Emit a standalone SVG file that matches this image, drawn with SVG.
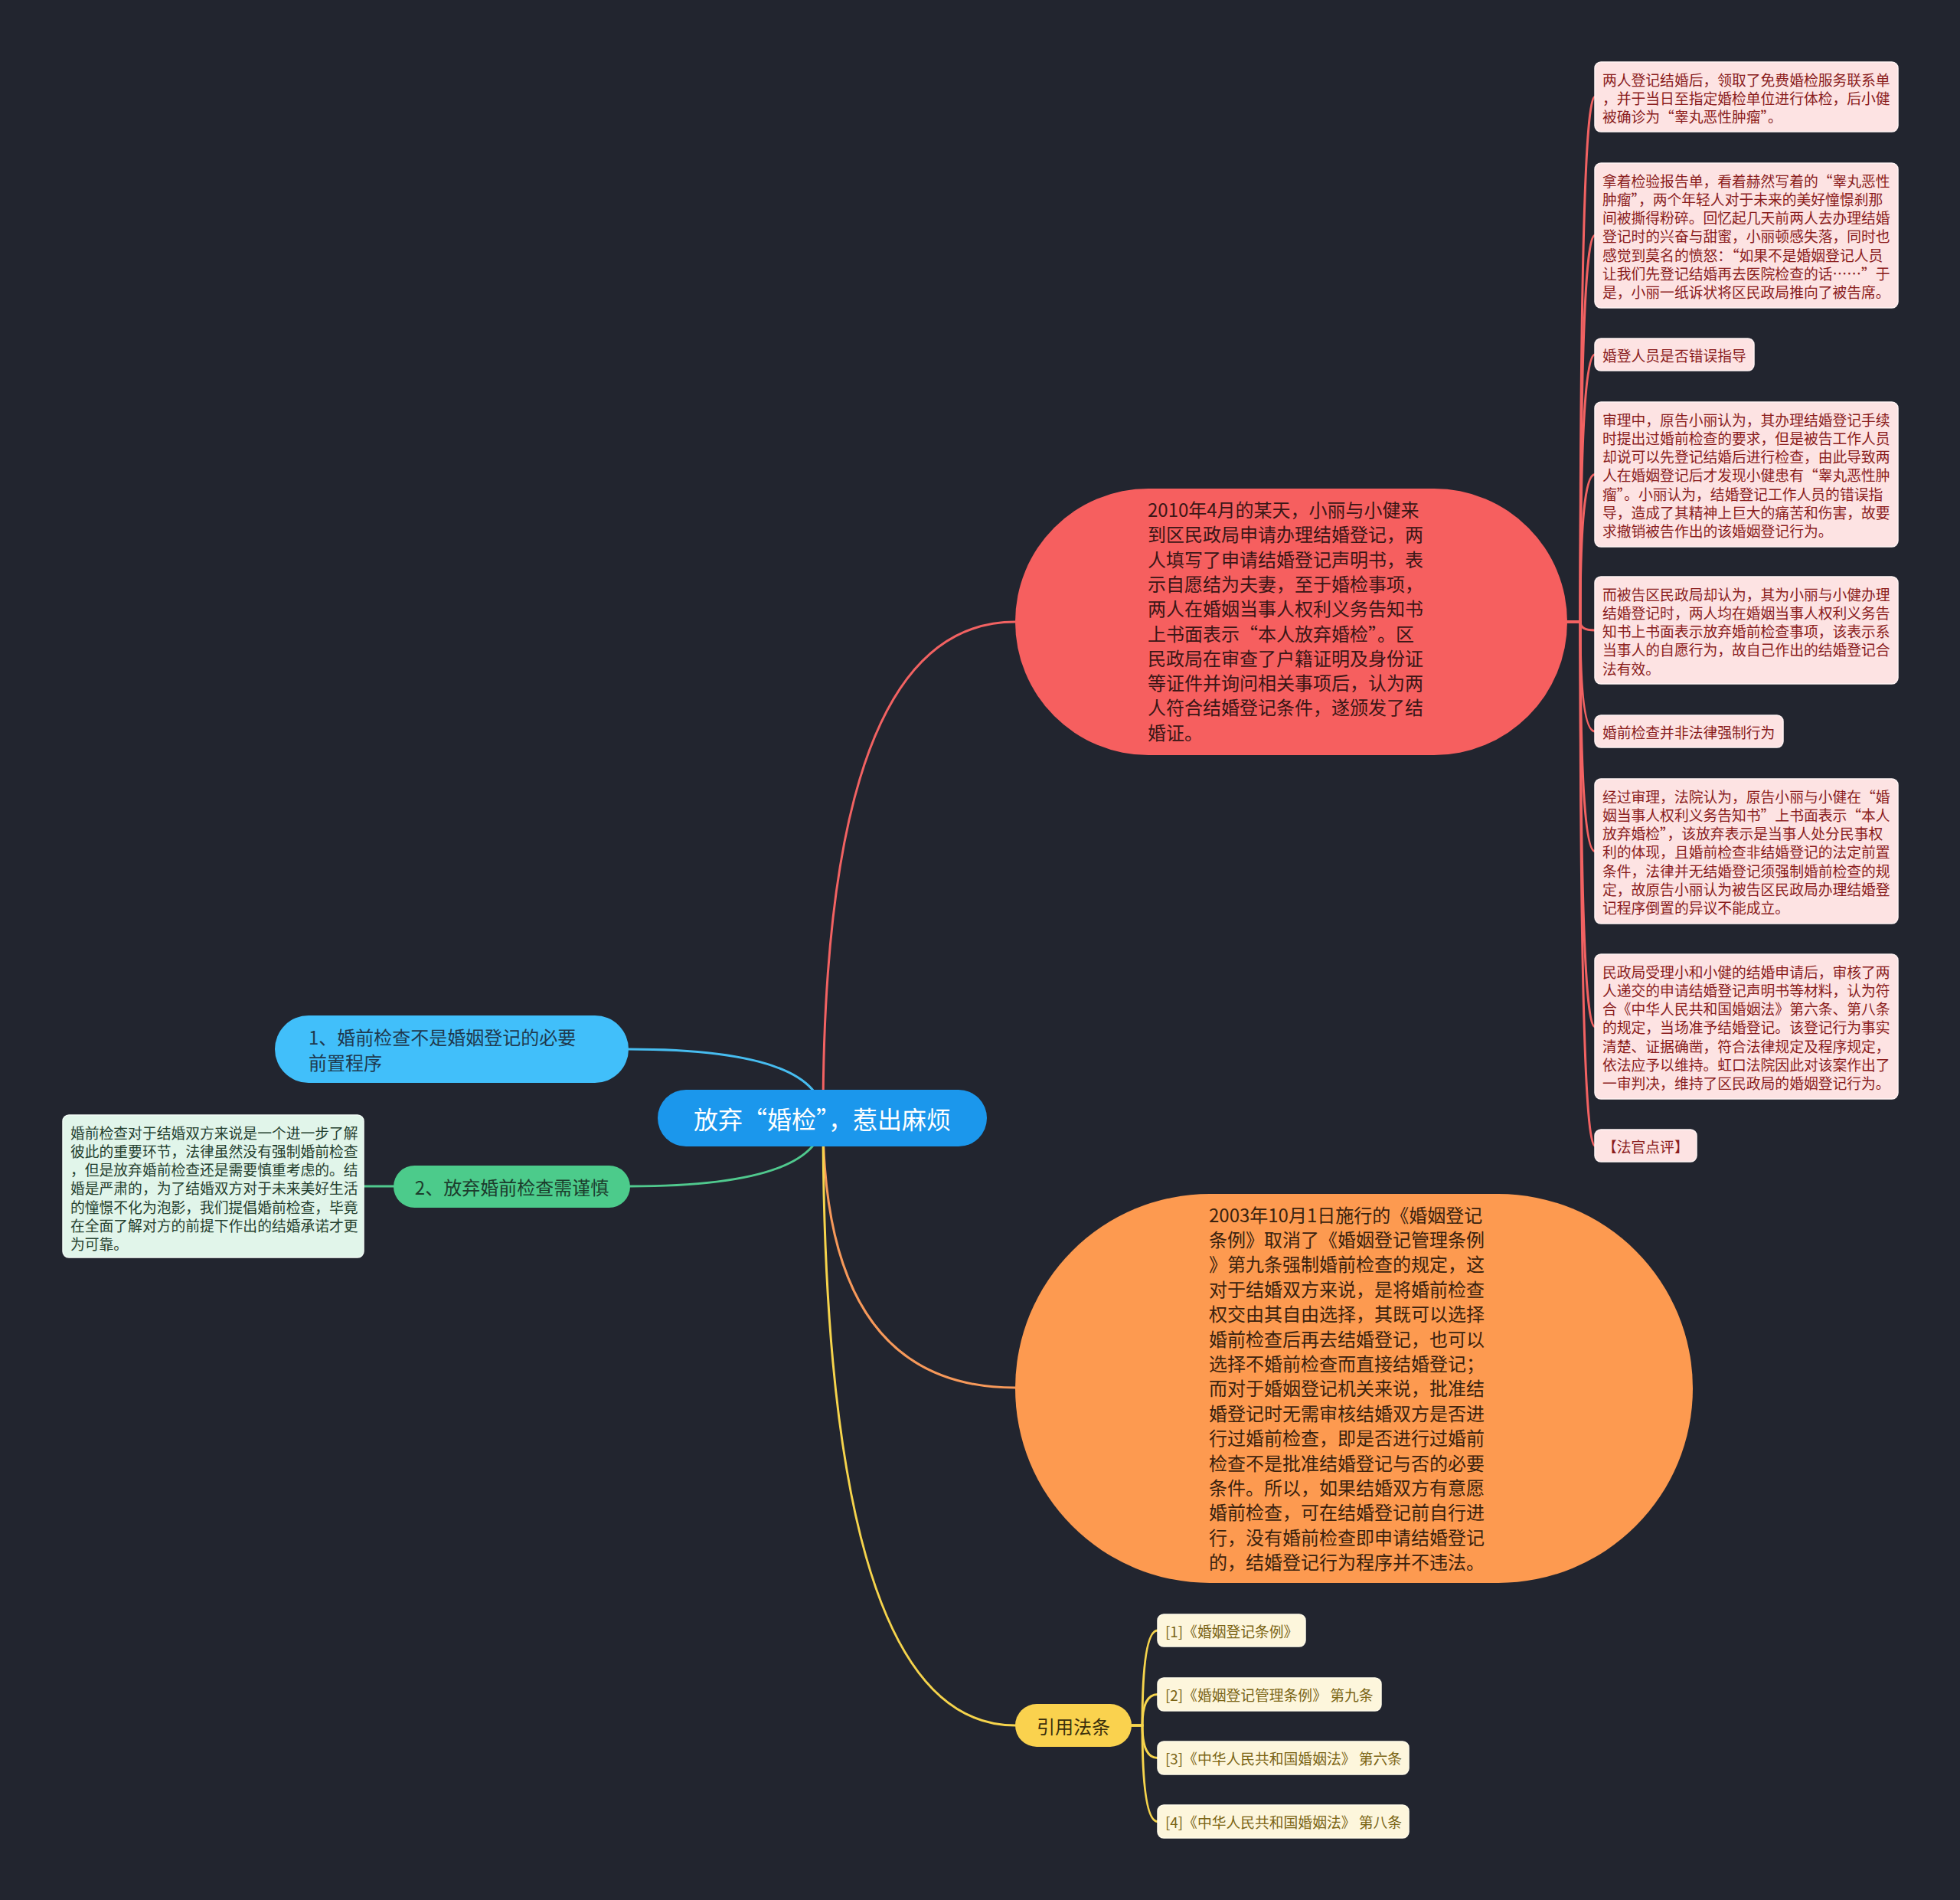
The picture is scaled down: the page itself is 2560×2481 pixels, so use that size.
<svg xmlns="http://www.w3.org/2000/svg" width="2560" height="2481" viewBox="0 0 2560 2481">
<style>
text{font-family:"Noto Sans CJK SC","Microsoft YaHei",sans-serif;dominant-baseline:central}
.c{fill:none;stroke-width:3;stroke-linecap:round}
.note{fill:#fde3e3;stroke:#fff3f3;stroke-width:1.5}
.nt{font-size:18.8px;fill:#8a1c1c}
.ref{fill:#fdf6dc;stroke:#fffbe9;stroke-width:1.5}
.rt{font-size:18.8px;fill:#7a6414}
.big{font-size:24px}
</style>
<rect x="0" y="0" width="2560" height="2481" fill="#22252f"/>
<g id="connectors">
<path class="c" stroke="#f26262" d="M1075,1460 Q1075,812 1326,812"/>
<path class="c" stroke="#f7995a" d="M1075,1460 Q1075,1812 1326,1812"/>
<path class="c" stroke="#f6d44c" d="M1075,1460 Q1075,2253 1326,2253"/>
<path class="c" stroke="#47bdf0" d="M1075,1460 Q1075,1370 821,1370"/>
<path class="c" stroke="#50c98e" d="M1075,1460 Q1075,1549 823,1549"/>
<path class="c" stroke="#50c98e" d="M514,1549 L475,1549"/>
<g stroke="#f26262" class="c">
<path d="M2047,812 L2064,812 Q2064,126.5 2083,126.5"/>
<path d="M2047,812 L2064,812 Q2064,307.5 2083,307.5"/>
<path d="M2047,812 L2064,812 Q2064,463 2083,463"/>
<path d="M2047,812 L2064,812 Q2064,619.5 2083,619.5"/>
<path d="M2047,812 L2064,812 Q2064,823 2083,823"/>
<path d="M2047,812 L2064,812 Q2064,955 2083,955"/>
<path d="M2047,812 L2064,812 Q2064,1111.5 2083,1111.5"/>
<path d="M2047,812 L2064,812 Q2064,1340.5 2083,1340.5"/>
<path d="M2047,812 L2064,812 Q2064,1496 2083,1496"/>
</g>
<g stroke="#f6d44c" class="c">
<path d="M1478,2253 L1492,2253 Q1492,2129 1512,2129"/>
<path d="M1478,2253 L1492,2253 Q1492,2212.5 1512,2212.5"/>
<path d="M1478,2253 L1492,2253 Q1492,2295.5 1512,2295.5"/>
<path d="M1478,2253 L1492,2253 Q1492,2378.5 1512,2378.5"/>
</g>
</g>
<g id="root">
<rect x="859" y="1423" width="430" height="74" rx="37" fill="#1b97ec"/>
<text x="1074" y="1460" font-size="32" fill="#ffffff" text-anchor="middle">放弃“婚检”，惹出麻烦</text>
</g>
<g id="n-red">
<rect x="1326" y="638" width="721" height="348" rx="174" fill="#f65f5f"/>
<g class="big" fill="#3a1616">
<text x="1499" y="664.5">2010年4月的某天，小丽与小健来</text>
<text x="1499" y="696.8">到区民政局申请办理结婚登记，两</text>
<text x="1499" y="729.1">人填写了申请结婚登记声明书，表</text>
<text x="1499" y="761.4">示自愿结为夫妻，至于婚检事项，</text>
<text x="1499" y="793.7">两人在婚姻当事人权利义务告知书</text>
<text x="1499" y="826">上书面表示“本人放弃婚检”。区</text>
<text x="1499" y="858.3">民政局在审查了户籍证明及身份证</text>
<text x="1499" y="890.6">等证件并询问相关事项后，认为两</text>
<text x="1499" y="922.9">人符合结婚登记条件，遂颁发了结</text>
<text x="1499" y="955.2">婚证。</text>
</g>
</g>
<g id="n-orange">
<rect x="1326" y="1559" width="885" height="508" rx="254" fill="#fd9a50"/>
<g class="big" fill="#3a220e">
<text x="1579" y="1585">2003年10月1日施行的《婚姻登记</text>
<text x="1579" y="1617.4">条例》取消了《婚姻登记管理条例</text>
<text x="1579" y="1649.8">》第九条强制婚前检查的规定，这</text>
<text x="1579" y="1682.2">对于结婚双方来说，是将婚前检查</text>
<text x="1579" y="1714.6">权交由其自由选择，其既可以选择</text>
<text x="1579" y="1747">婚前检查后再去结婚登记，也可以</text>
<text x="1579" y="1779.4">选择不婚前检查而直接结婚登记；</text>
<text x="1579" y="1811.8">而对于婚姻登记机关来说，批准结</text>
<text x="1579" y="1844.2">婚登记时无需审核结婚双方是否进</text>
<text x="1579" y="1876.6">行过婚前检查，即是否进行过婚前</text>
<text x="1579" y="1909">检查不是批准结婚登记与否的必要</text>
<text x="1579" y="1941.4">条件。所以，如果结婚双方有意愿</text>
<text x="1579" y="1973.8">婚前检查，可在结婚登记前自行进</text>
<text x="1579" y="2006.2">行，没有婚前检查即申请结婚登记</text>
<text x="1579" y="2038.6">的，结婚登记行为程序并不违法。</text>
</g>
</g>
<g id="n-blue">
<rect x="359" y="1326" width="462" height="88" rx="44" fill="#41bffa"/>
<text class="big" x="403" y="1353" fill="#1f3a4f">1、婚前检查不是婚姻登记的必要</text>
<text class="big" x="403" y="1386" fill="#1f3a4f">前置程序</text>
</g>
<g id="n-green">
<rect x="514" y="1522" width="309" height="55" rx="27.5" fill="#4ccb8b"/>
<text class="big" x="668.5" y="1549.5" fill="#1c3d2d" text-anchor="middle">2、放弃婚前检查需谨慎</text>
</g>
<g id="n-green-note">
<rect x="82" y="1456" width="393" height="186" rx="8" fill="#e1f5ea" stroke="#f2fbf6" stroke-width="1.5"/>
<g font-size="18.8" fill="#25402f">
<text x="92" y="1478">婚前检查对于结婚双方来说是一个进一步了解</text>
<text x="92" y="1502.3">彼此的重要环节，法律虽然没有强制婚前检查</text>
<text x="92" y="1526.6">，但是放弃婚前检查还是需要慎重考虑的。结</text>
<text x="92" y="1550.9">婚是严肃的，为了结婚双方对于未来美好生活</text>
<text x="92" y="1575.2">的憧憬不化为泡影，我们提倡婚前检查，毕竟</text>
<text x="92" y="1599.5">在全面了解对方的前提下作出的结婚承诺才更</text>
<text x="92" y="1623.8">为可靠。</text>
</g>
</g>
<g id="n-yellow">
<rect x="1326" y="2225" width="152" height="56" rx="28" fill="#fad24e"/>
<text class="big" x="1402" y="2253" fill="#3a2f0c" text-anchor="middle">引用法条</text>
</g>
<g id="note1">
<rect class="note" x="2083" y="81" width="396" height="91" rx="8"/>
<text class="nt" x="2093" y="103">两人登记结婚后，领取了免费婚检服务联系单</text>
<text class="nt" x="2093" y="127.3">，并于当日至指定婚检单位进行体检，后小健</text>
<text class="nt" x="2093" y="151.6">被确诊为“睾丸恶性肿瘤”。</text>
</g>
<g id="note2">
<rect class="note" x="2083" y="213" width="396" height="189" rx="8"/>
<text class="nt" x="2093" y="235">拿着检验报告单，看着赫然写着的“睾丸恶性</text>
<text class="nt" x="2093" y="259.3">肿瘤”，两个年轻人对于未来的美好憧憬刹那</text>
<text class="nt" x="2093" y="283.6">间被撕得粉碎。回忆起几天前两人去办理结婚</text>
<text class="nt" x="2093" y="307.9">登记时的兴奋与甜蜜，小丽顿感失落，同时也</text>
<text class="nt" x="2093" y="332.2">感觉到莫名的愤怒：“如果不是婚姻登记人员</text>
<text class="nt" x="2093" y="356.5">让我们先登记结婚再去医院检查的话……”于</text>
<text class="nt" x="2093" y="380.8">是，小丽一纸诉状将区民政局推向了被告席。</text>
</g>
<g id="note3">
<rect class="note" x="2083" y="442" width="208" height="42" rx="8"/>
<text class="nt" x="2093" y="463">婚登人员是否错误指导</text>
</g>
<g id="note4">
<rect class="note" x="2083" y="525" width="396" height="189" rx="8"/>
<text class="nt" x="2093" y="547">审理中，原告小丽认为，其办理结婚登记手续</text>
<text class="nt" x="2093" y="571.3">时提出过婚前检查的要求，但是被告工作人员</text>
<text class="nt" x="2093" y="595.6">却说可以先登记结婚后进行检查，由此导致两</text>
<text class="nt" x="2093" y="619.9">人在婚姻登记后才发现小健患有“睾丸恶性肿</text>
<text class="nt" x="2093" y="644.2">瘤”。小丽认为，结婚登记工作人员的错误指</text>
<text class="nt" x="2093" y="668.5">导，造成了其精神上巨大的痛苦和伤害，故要</text>
<text class="nt" x="2093" y="692.8">求撤销被告作出的该婚姻登记行为。</text>
</g>
<g id="note5">
<rect class="note" x="2083" y="753" width="396" height="140" rx="8"/>
<text class="nt" x="2093" y="775">而被告区民政局却认为，其为小丽与小健办理</text>
<text class="nt" x="2093" y="799.3">结婚登记时，两人均在婚姻当事人权利义务告</text>
<text class="nt" x="2093" y="823.6">知书上书面表示放弃婚前检查事项，该表示系</text>
<text class="nt" x="2093" y="847.9">当事人的自愿行为，故自己作出的结婚登记合</text>
<text class="nt" x="2093" y="872.2">法有效。</text>
</g>
<g id="note6">
<rect class="note" x="2083" y="934" width="246" height="42" rx="8"/>
<text class="nt" x="2093" y="955">婚前检查并非法律强制行为</text>
</g>
<g id="note7">
<rect class="note" x="2083" y="1017" width="396" height="189" rx="8"/>
<text class="nt" x="2093" y="1039">经过审理，法院认为，原告小丽与小健在“婚</text>
<text class="nt" x="2093" y="1063.3">姻当事人权利义务告知书”上书面表示“本人</text>
<text class="nt" x="2093" y="1087.6">放弃婚检”，该放弃表示是当事人处分民事权</text>
<text class="nt" x="2093" y="1111.9">利的体现，且婚前检查非结婚登记的法定前置</text>
<text class="nt" x="2093" y="1136.2">条件，法律并无结婚登记须强制婚前检查的规</text>
<text class="nt" x="2093" y="1160.5">定，故原告小丽认为被告区民政局办理结婚登</text>
<text class="nt" x="2093" y="1184.8">记程序倒置的异议不能成立。</text>
</g>
<g id="note8">
<rect class="note" x="2083" y="1246" width="396" height="189" rx="8"/>
<text class="nt" x="2093" y="1268">民政局受理小和小健的结婚申请后，审核了两</text>
<text class="nt" x="2093" y="1292.3">人递交的申请结婚登记声明书等材料，认为符</text>
<text class="nt" x="2093" y="1316.6">合《中华人民共和国婚姻法》第六条、第八条</text>
<text class="nt" x="2093" y="1340.9">的规定，当场准予结婚登记。该登记行为事实</text>
<text class="nt" x="2093" y="1365.2">清楚、证据确凿，符合法律规定及程序规定，</text>
<text class="nt" x="2093" y="1389.5">依法应予以维持。虹口法院因此对该案作出了</text>
<text class="nt" x="2093" y="1413.8">一审判决，维持了区民政局的婚姻登记行为。</text>
</g>
<g id="note9">
<rect class="note" x="2083" y="1475" width="133" height="42" rx="8"/>
<text class="nt" x="2093" y="1496">【法官点评】</text>
</g>
<g id="ref1">
<rect class="ref" x="1512" y="2108" width="193" height="42" rx="8"/>
<text class="rt" x="1522" y="2129">[1]《婚姻登记条例》</text>
</g>
<g id="ref2">
<rect class="ref" x="1512" y="2191" width="292" height="43" rx="8"/>
<text class="rt" x="1522" y="2212.5">[2]《婚姻登记管理条例》 第九条</text>
</g>
<g id="ref3">
<rect class="ref" x="1512" y="2274" width="328" height="43" rx="8"/>
<text class="rt" x="1522" y="2295.5">[3]《中华人民共和国婚姻法》 第六条</text>
</g>
<g id="ref4">
<rect class="ref" x="1512" y="2357" width="328" height="43" rx="8"/>
<text class="rt" x="1522" y="2378.5">[4]《中华人民共和国婚姻法》 第八条</text>
</g>
</svg>
